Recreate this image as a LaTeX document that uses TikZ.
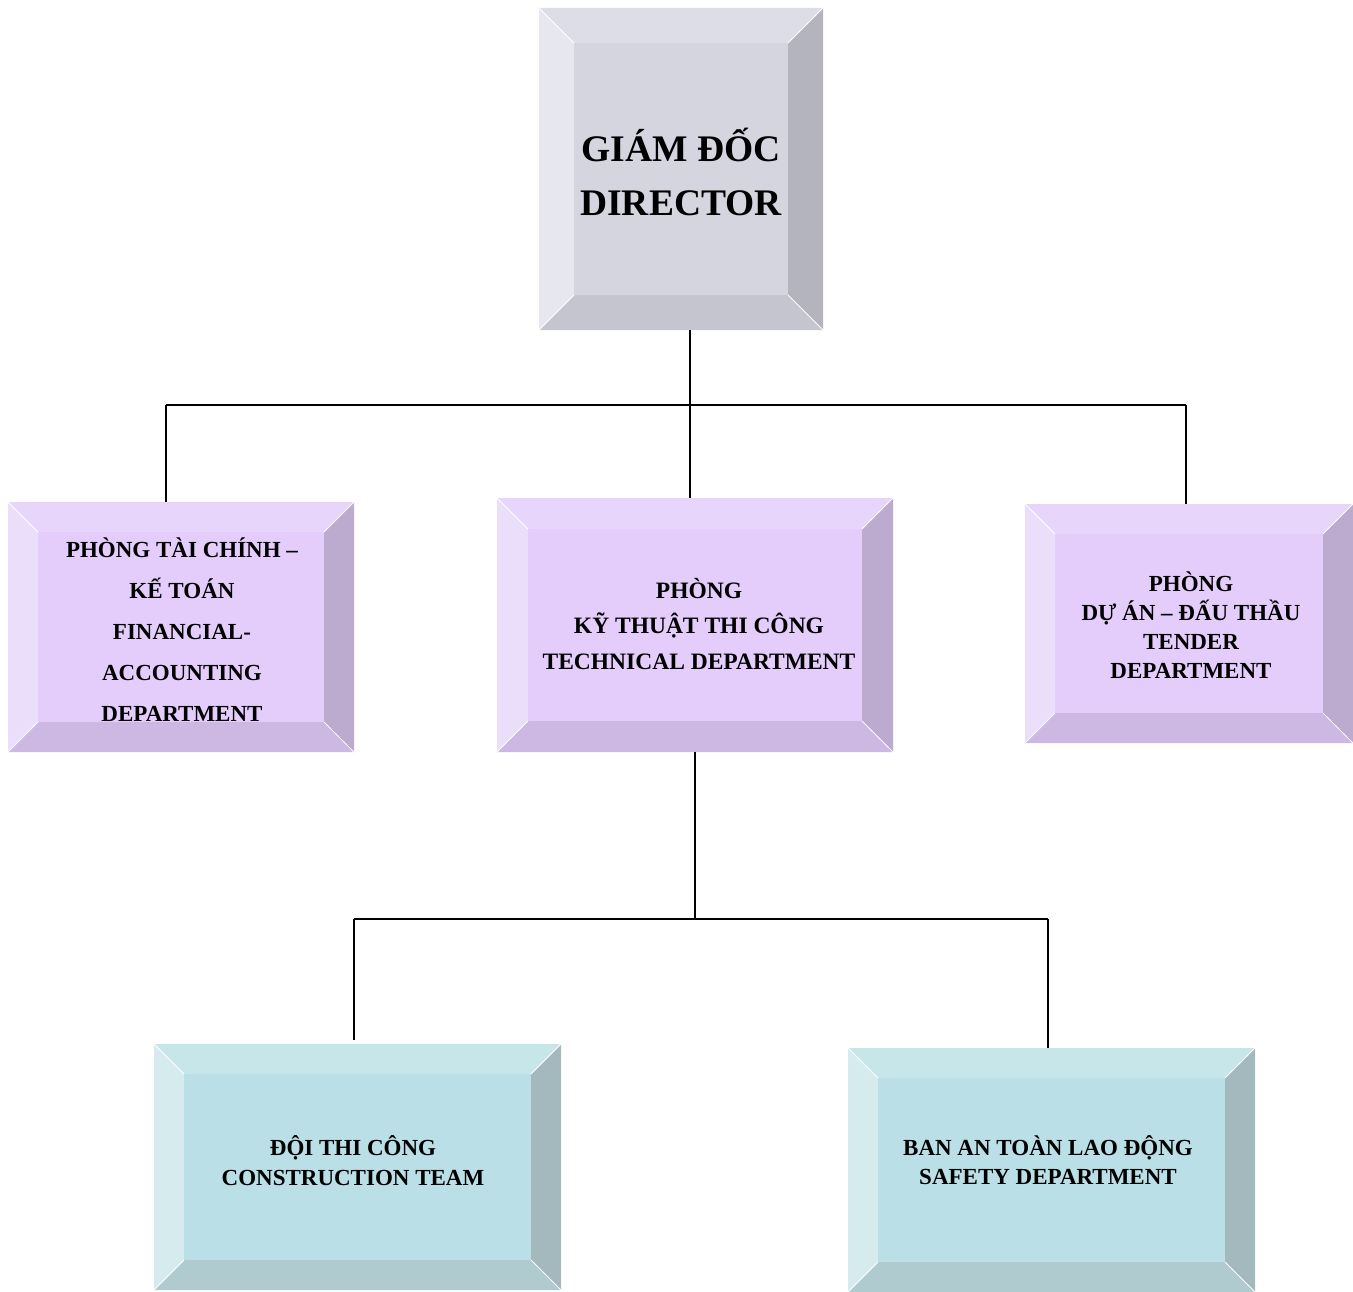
\documentclass[tikz,border=0pt]{standalone}
\usepackage{fontspec}
\setmainfont{Liberation Serif}
\usepackage{tikz}

\definecolor{greyface}{HTML}{D5D5E0}
\definecolor{greytop}{HTML}{DDDDE7}
\definecolor{greyleft}{HTML}{E7E7EF}
\definecolor{greyright}{HTML}{B4B4BE}
\definecolor{greybottom}{HTML}{C5C5CF}
\definecolor{lilacface}{HTML}{E4CDFB}
\definecolor{lilactop}{HTML}{E7D5FB}
\definecolor{lilacleft}{HTML}{EBDEFB}
\definecolor{lilacright}{HTML}{BCAACF}
\definecolor{lilacbottom}{HTML}{CDB8E3}
\definecolor{tealface}{HTML}{BADFE6}
\definecolor{tealtop}{HTML}{C7E6EA}
\definecolor{tealleft}{HTML}{D5EBEE}
\definecolor{tealright}{HTML}{A4B9BD}
\definecolor{tealbottom}{HTML}{AFCBD0}

% bevelled box: x1, y1, x2, y2, bevel, colour set
\newcommand{\bevelbox}[6]{%
  \fill[#6top] (#1,#2) -- (#3,#2) -- (#3-#5,#2+#5) -- (#1+#5,#2+#5) -- cycle;
  \fill[#6left] (#1,#2) -- (#1+#5,#2+#5) -- (#1+#5,#4-#5) -- (#1,#4) -- cycle;
  \fill[#6right] (#3,#2) -- (#3,#4) -- (#3-#5,#4-#5) -- (#3-#5,#2+#5) -- cycle;
  \fill[#6bottom] (#1,#4) -- (#1+#5,#4-#5) -- (#3-#5,#4-#5) -- (#3,#4) -- cycle;
  \fill[#6face] (#1+#5,#2+#5) rectangle (#3-#5,#4-#5);
  \draw[white, line width=0.8pt] (#1,#2) -- (#1+#5,#2+#5) (#3,#2) -- (#3-#5,#2+#5)
    (#1,#4) -- (#1+#5,#4-#5) (#3,#4) -- (#3-#5,#4-#5);
}

\tikzset{
  boxlabel/.style={inner sep=0pt, align=center, text=black},
  link/.style={line width=1.5pt}
}

\begin{document}
\begin{tikzpicture}[x=1pt, y=-1pt]
    \useasboundingbox (0,0) rectangle (1353,1292);

    % boxes
    \bevelbox{539}{8}{823}{330}{35}{grey}
    \bevelbox{8}{502}{354}{752}{30}{lilac}
    \bevelbox{497}{498}{893}{752}{31}{lilac}
    \bevelbox{1025}{504}{1353}{743}{30}{lilac}
    \bevelbox{154}{1044}{561}{1290}{30}{teal}
    \bevelbox{848}{1048}{1255}{1292}{30}{teal}

    \node[boxlabel, minimum width=284pt, minimum height=322pt] (dir) at (681,169) {};
    \node[boxlabel, font=\fontsize{37.5}{54}\selectfont\bfseries] at (681,172) {GIÁM ĐỐC\\DIRECTOR};

    \node[boxlabel, minimum width=346pt, minimum height=250pt] (fin) at (181,627) {};
    \node[boxlabel, font=\fontsize{23}{41}\selectfont\bfseries] at (182,630)
        {PHÒNG TÀI CHÍNH –\\KẾ TOÁN\\FINANCIAL-\\ACCOUNTING\\DEPARTMENT};

    \node[boxlabel, minimum width=396pt, minimum height=254pt] (tech) at (695,625) {};
    \node[boxlabel, font=\fontsize{23.5}{35.5}\selectfont\bfseries] at (699,624)
        {PHÒNG\\KỸ THUẬT THI CÔNG\\TECHNICAL DEPARTMENT};

    \node[boxlabel, minimum width=328pt, minimum height=239pt] (tend) at (1189,623.5) {};
    \node[boxlabel, font=\fontsize{23}{29}\selectfont\bfseries] at (1191,625)
        {PHÒNG\\DỰ ÁN – ĐẤU THẦU\\TENDER\\DEPARTMENT};

    \node[boxlabel, minimum width=407pt, minimum height=246pt] (team) at (357.5,1167) {};
    \node[boxlabel, font=\fontsize{23}{30}\selectfont\bfseries] at (353,1161)
        {ĐỘI THI CÔNG\\CONSTRUCTION TEAM};

    \node[boxlabel, minimum width=407pt, minimum height=244pt] (safe) at (1051.5,1170) {};
    \node[boxlabel, font=\fontsize{23}{29}\selectfont\bfseries] at (1048,1160)
        {BAN AN TOÀN LAO ĐỘNG\\SAFETY DEPARTMENT};

    % upper links
    \coordinate (busL) at (166,405);
    \coordinate (busM) at (690,405);
    \coordinate (busR) at (1186,405);
    \draw[link] (busM |- dir.south) -- (busM);
    \draw[link] (busL) -- (busR);
    \draw[link] (busL) -- (busL |- fin.north);
    \draw[link] (busM) -- (busM |- tech.north);
    \draw[link] (busR) -- (busR |- tend.north);

    % lower links
    \coordinate (lowL) at (354,919);
    \coordinate (lowM) at (695,919);
    \coordinate (lowR) at (1048,919);
    \coordinate (teamtop) at (354,1040);
    \draw[link] (tech.south) -- (lowM);
    \draw[link] (lowL) -- (lowR);
    \draw[link] (lowL) -- (teamtop);
    \draw[link] (lowR) -- (lowR |- safe.north);
\end{tikzpicture}
\end{document}
